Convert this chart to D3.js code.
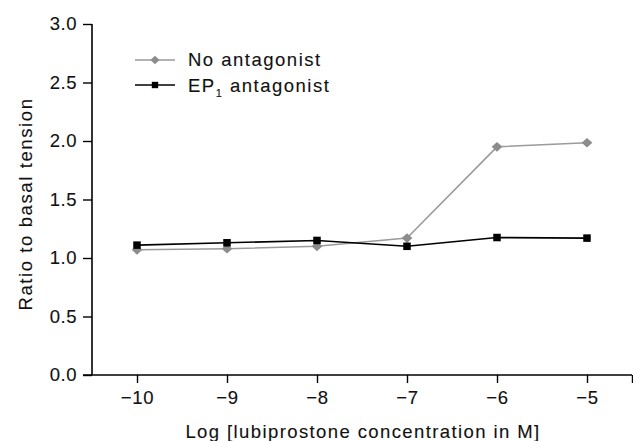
<!DOCTYPE html>
<html>
<head>
<meta charset="utf-8">
<script src="https://cdn.jsdelivr.net/npm/d3@7"></script>
<style>
  body { margin: 0; background: #fff; }
  svg { display: block; font-family: "Liberation Sans", Arial, sans-serif; }
  text { fill: #111; stroke: #111; stroke-width: 0.12px; }
</style>
</head>
<body>
<svg id="chart" width="633" height="441"></svg>
<script>
const concentrations = [-10, -9, -8, -7, -6, -5];
const noAntagonist = [1.07, 1.08, 1.10, 1.17, 1.95, 1.985];
const ep1Antagonist = [1.11, 1.13, 1.15, 1.10, 1.175, 1.17];
const yTicks = [0, 0.5, 1.0, 1.5, 2.0, 2.5, 3.0];
const xTicks = [-10, -9, -8, -7, -6, -5];
const seriesNames = ["No antagonist", "EP", "1", " antagonist"];

const svg = d3.select("#chart");
const x = d3.scaleLinear().domain([-10.5, -4.5]).range([92, 632]);
const y = d3.scaleLinear().domain([0, 3]).range([375, 24]);

const fmtMinus = d => (d < 0 ? "\u2212" + Math.abs(d) : String(d));

// Y axis
const yAxis = svg.append("g").attr("transform", "translate(92,0)")
  .call(d3.axisLeft(y).tickValues(yTicks).tickFormat(d3.format(".1f")).tickSize(9).tickPadding(6));
yAxis.select(".domain").attr("stroke", "#000").attr("stroke-width", 1.6).attr("d", "M0,24V375");
yAxis.selectAll(".tick line").attr("stroke", "#000").attr("stroke-width", 1.4);
yAxis.selectAll(".tick text").attr("font-size", 18.5)
  .attr("font-family", "Liberation Sans, Arial, sans-serif").style("letter-spacing", "0.5px");

// X axis
const xAxis = svg.append("g").attr("transform", "translate(0,375)")
  .call(d3.axisBottom(x).tickValues(xTicks.concat([-4.5])).tickFormat(d => d === -4.5 ? "" : fmtMinus(d)).tickSize(8).tickPadding(8));
xAxis.select(".domain").attr("stroke", "#000").attr("stroke-width", 1.6).attr("d", "M83,0H632");
xAxis.selectAll(".tick line").attr("stroke", "#000").attr("stroke-width", 1.4);
xAxis.selectAll(".tick text").attr("font-size", 18.5)
  .attr("font-family", "Liberation Sans, Arial, sans-serif").style("letter-spacing", "0.7px");

// Axis titles
svg.append("text").attr("x", 363).attr("y", 438).attr("text-anchor", "middle")
  .attr("font-size", 18.5).style("letter-spacing", "1.4px")
  .text("Log [lubiprostone concentration in M]");
svg.append("text").attr("transform", "translate(32,204) rotate(-90)").attr("text-anchor", "middle")
  .attr("font-size", 18.5).style("letter-spacing", "1.6px")
  .text("Ratio to basal tension");

const line = d3.line().x(d => x(d[0])).y(d => y(d[1]));
const grayData = concentrations.map((c, i) => [c, noAntagonist[i]]);
const blackData = concentrations.map((c, i) => [c, ep1Antagonist[i]]);

// Gray series
svg.append("path").datum(grayData).attr("d", line).attr("fill", "none")
  .attr("stroke", "#9a9a9a").attr("stroke-width", 1.5);
svg.selectAll(".dia").data(grayData).join("path").attr("class", "dia")
  .attr("d", d3.symbol(d3.symbolDiamond2, 60))
  .attr("transform", d => `translate(${x(d[0])},${y(d[1])}) scale(1.1,1)`)
  .attr("fill", "#8c8c8c");

// Black series
svg.append("path").datum(blackData).attr("d", line).attr("fill", "none")
  .attr("stroke", "#000").attr("stroke-width", 1.6);
svg.selectAll(".sq").data(blackData).join("path").attr("class", "sq")
  .attr("d", d3.symbol(d3.symbolSquare2, 72))
  .attr("transform", d => `translate(${x(d[0])},${y(d[1])})`)
  .attr("fill", "#000");

// Legend
const lg = svg.append("g");
lg.append("line").attr("x1", 135).attr("x2", 175).attr("y1", 60).attr("y2", 60)
  .attr("stroke", "#9a9a9a").attr("stroke-width", 1.5);
lg.append("path").attr("d", d3.symbol(d3.symbolDiamond2, 44))
  .attr("transform", "translate(155,60) scale(1.1,1)").attr("fill", "#8c8c8c");
lg.append("text").attr("x", 188).attr("y", 66).attr("font-size", 18.5)
  .style("letter-spacing", "1.5px").text(seriesNames[0]);

lg.append("line").attr("x1", 135).attr("x2", 175).attr("y1", 85).attr("y2", 85)
  .attr("stroke", "#000").attr("stroke-width", 1.6);
lg.append("path").attr("d", d3.symbol(d3.symbolSquare2, 52))
  .attr("transform", "translate(155,85)").attr("fill", "#000");
const t2 = lg.append("text").attr("x", 188).attr("y", 92).attr("font-size", 18.5)
  .style("letter-spacing", "1.5px");
t2.append("tspan").text(seriesNames[1]);
t2.append("tspan").attr("font-size", 11).attr("dy", 5).text(seriesNames[2]);
t2.append("tspan").attr("dy", -5).text(seriesNames[3]);
</script>
</body>
</html>
